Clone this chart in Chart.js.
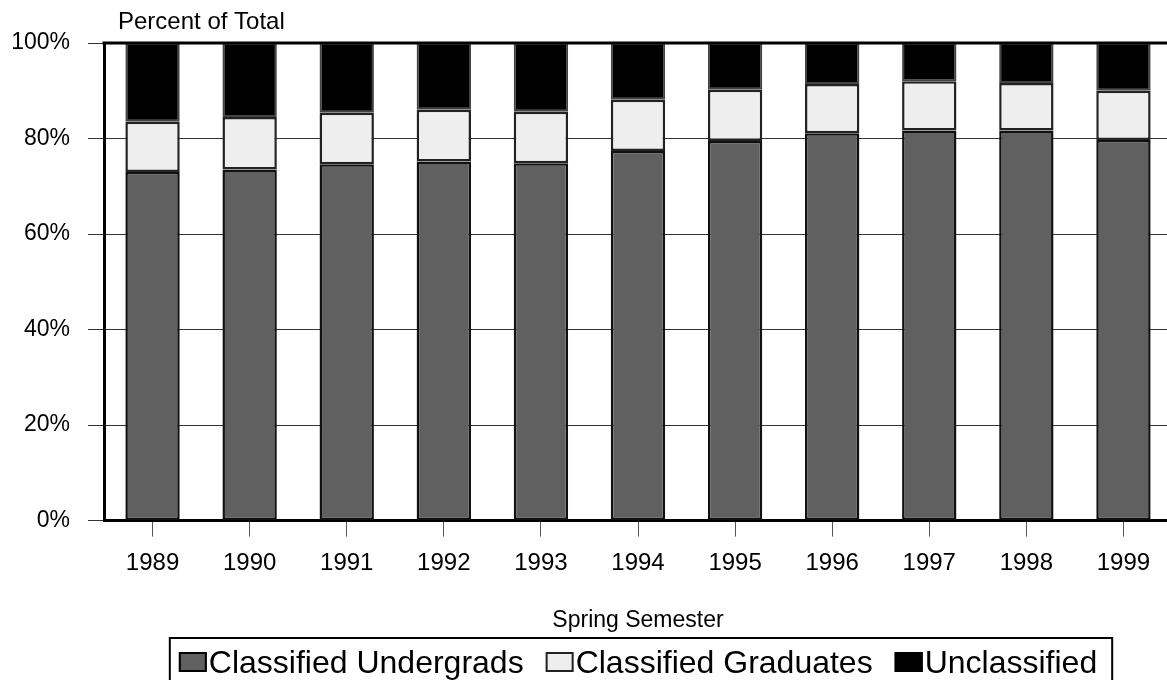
<!DOCTYPE html>
<html>
<head>
<meta charset="utf-8">
<script src="https://cdn.jsdelivr.net/npm/chart.js@4/dist/chart.umd.min.js"></script>
<style>
    html, body { margin: 0; padding: 0; background: #fff; overflow: hidden; }
    #wrap { width: 1172px; height: 680px; }
</style>
</head>
<body>
<div id="wrap"><canvas id="cShare"></canvas></div>
<script>
const years = ['1989','1990','1991','1992','1993','1994','1995','1996','1997','1998','1999'];
const undergrads = [73.0, 73.5, 74.6, 75.2, 74.8, 77.4, 79.5, 81.1, 81.7, 81.7, 79.7];
const graduates = [10.5, 11.0, 10.8, 10.8, 10.8, 10.7, 10.7, 10.3, 10.3, 9.9, 10.3];
const unclassified = [16.5, 15.5, 14.6, 14.0, 14.4, 11.9, 9.8, 8.6, 8.0, 8.4, 10.0];
const yTicks = [0, 20, 40, 60, 80, 100];

const fontFamily = '"Liberation Sans", Arial, sans-serif';

// top border line + "Percent of Total" label + boxed legend
const extrasPlugin = {
    id: 'extras',
    afterDatasetsDraw(chart) {
        let ctx = chart.ctx, area = chart.chartArea;
        ctx.save();
        ctx.strokeStyle = '#000';
        ctx.lineWidth = 3;
        ctx.beginPath();
        ctx.moveTo(area.left - 1.5, area.top);
        ctx.lineTo(chart.width, area.top);
        ctx.stroke();
        ctx.restore();
    },
    afterDraw(chart) {
        let ctx = chart.ctx, area = chart.chartArea;
        ctx.save();
        ctx.fillStyle = '#000';
        ctx.font = '24px ' + fontFamily;
        ctx.textBaseline = 'alphabetic';
        ctx.textAlign = 'left';
        ctx.fillText('Percent of Total', 118, 29);

        // legend
        ctx.font = '32px ' + fontFamily;
        let boxW = 28, boxH = 20, gapText = 2, gapItem = 22;
        let items = chart.data.datasets.map(ds => ({label: ds.label, fill: ds.backgroundColor, stroke: ds.legendStroke}));
        let total = 0;
        items.forEach((it, i) => {
            it.w = boxW + gapText + ctx.measureText(it.label).width;
            total += it.w + (i > 0 ? gapItem : 0);
        });
        let center = (area.left + area.right) / 2;
        let x = center - total / 2;
        let top = 638;
        ctx.strokeStyle = '#000';
        ctx.lineWidth = 2;
        ctx.strokeRect(x - 9, top, total + 24, 52);
        for (let it of items) {
            ctx.fillStyle = it.fill;
            ctx.fillRect(x, top + 14, boxW, boxH);
            ctx.strokeStyle = it.stroke;
            ctx.lineWidth = 2;
            ctx.strokeRect(x + 1, top + 15, boxW - 2, boxH - 2);
            ctx.fillStyle = '#000';
            ctx.fillText(it.label, x + boxW + gapText, top + 35);
            x += it.w + gapItem;
        }
        ctx.restore();
    }
};

const chart = new Chart(document.getElementById('cShare'), {
    type: 'bar',
    data: {
        labels: years,
        datasets: [{
            label: 'Classified Undergrads',
            data: undergrads,
            backgroundColor: '#606060',
            borderColor: '#111',
            legendStroke: '#000',
            borderWidth: 2.5,
            borderSkipped: false,
        }, {
            label: 'Classified Graduates',
            data: graduates,
            backgroundColor: '#eeeeee',
            borderColor: '#222',
            legendStroke: '#222',
            borderWidth: 2.5,
            borderSkipped: false,
        }, {
            label: 'Unclassified',
            data: unclassified,
            backgroundColor: '#000000',
            borderColor: '#444',
            legendStroke: '#000',
            borderWidth: 2,
            borderSkipped: false,
        }]
    },
    options: {
        responsive: true,
        maintainAspectRatio: false,
        animation: false,
        layout: { padding: { top: 43, left: 9, right: 0, bottom: 42 } },
        plugins: {
            legend: { display: false },
            tooltip: { enabled: false },
        },
        datasets: {
            bar: { barPercentage: 0.56, categoryPercentage: 1.0 }
        },
        scales: {
            x: {
                stacked: true,
                grid: { drawOnChartArea: false, offset: false, tickLength: 16, color: '#555', lineWidth: 1 },
                border: { color: '#000', width: 3 },
                ticks: { color: '#000', padding: 12, font: { family: fontFamily, size: 24 }, maxRotation: 0 },
                title: {
                    display: true,
                    text: 'Spring Semester',
                    color: '#000',
                    font: { family: fontFamily, size: 23 },
                    padding: { top: 17, bottom: 4 },
                },
            },
            y: {
                stacked: true,
                min: 0,
                max: 100,
                afterBuildTicks: (scale) => { scale.ticks = yTicks.map(v => ({value: v})); },
                afterFit: (scale) => { scale.width = 95; },
                grid: { color: '#333', lineWidth: 1, tickLength: 16 },
                border: { color: '#000', width: 3 },
                ticks: {
                    color: '#000',
                    padding: 18,
                    font: { family: fontFamily, size: 23 },
                    callback: (v) => v + '%',
                },
            },
        },
    },
    plugins: [extrasPlugin],
});
</script>
</body>
</html>
